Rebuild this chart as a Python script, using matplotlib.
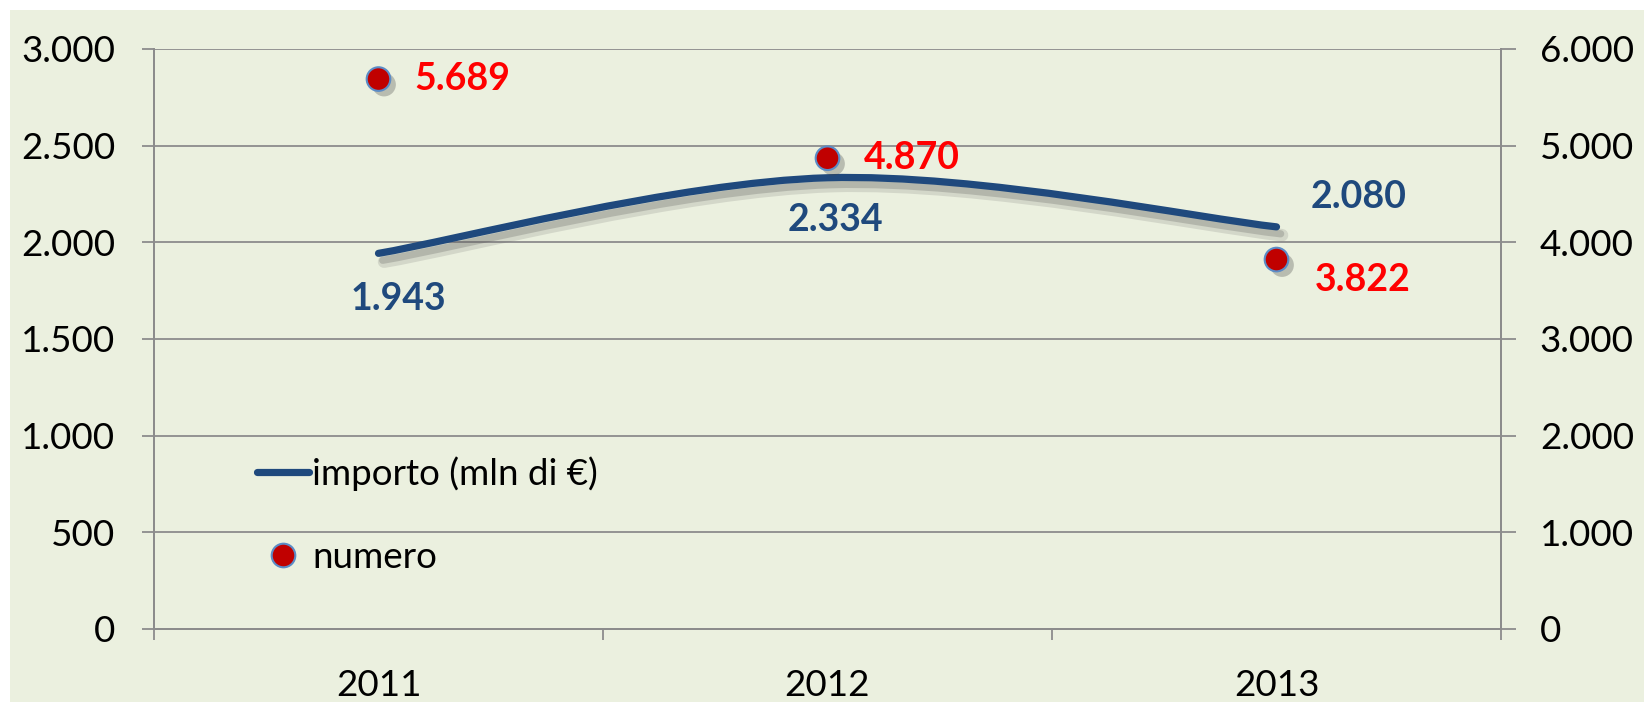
import matplotlib.pyplot as plt
import matplotlib.patheffects as pe
from matplotlib.path import Path
from matplotlib.patches import PathPatch, Rectangle
from matplotlib.lines import Line2D
from matplotlib.ticker import FuncFormatter

# dati
anni = ['2011', '2012', '2013']
importo = [1943, 2334, 2080]   # mln di euro, asse sinistro
numero = [5689, 4870, 3822]    # asse destro

blu = '#1F497D'
rosso = '#C00000'
sfondo = '#EBF0DF'
griglia = '#8C8C8C'

plt.rcParams['font.family'] = ['Lato', 'DejaVu Sans']
plt.rcParams['font.size'] = 26.5


def fmt(v, pos=None):
    return f'{int(v):,}'.replace(',', '.')


fig = plt.figure(figsize=(16.44, 7.02), dpi=100)
fig.patch.set_facecolor('white')
fig.patches.append(Rectangle((10 / 1644, 0), 1, 692 / 702, transform=fig.transFigure,
                             facecolor=sfondo, edgecolor='none', zorder=-10))

ax = fig.add_axes([154 / 1644, 73 / 702, (1501 - 154) / 1644, (653 - 73) / 702])
ax.set_facecolor('none')
ax2 = ax.twinx()

x = [i + 0.5 for i in range(len(anni))]

# linea smussata (bezier tipo Excel)
pts = list(zip(x, importo))
verts = [pts[0]]
codes = [Path.MOVETO]
for i in range(len(pts) - 1):
    p0 = pts[i - 1] if i > 0 else pts[i]
    p1 = pts[i]
    p2 = pts[i + 1]
    p3 = pts[i + 2] if i + 2 < len(pts) else pts[i + 1]
    c1 = (p1[0] + (p2[0] - p0[0]) / 6, p1[1] + (p2[1] - p0[1]) / 6)
    c2 = (p2[0] - (p3[0] - p1[0]) / 6, p2[1] - (p3[1] - p1[1]) / 6)
    verts += [c1, c2, p2]
    codes += [Path.CURVE4] * 3
ombra = [pe.SimpleLineShadow(offset=(4, -6), shadow_color='#666666', alpha=0.18, linewidth=9),
         pe.SimpleLineShadow(offset=(3, -5), shadow_color='#555555', alpha=0.25),
         pe.Normal()]
curva = PathPatch(Path(verts, codes), facecolor='none', edgecolor=blu, lw=5.2,
                  capstyle='round', zorder=3, path_effects=ombra)
ax.add_patch(curva)

ax.set_xlim(0, 3)
ax.set_ylim(0, 3000)
ax.set_yticks(range(0, 3001, 500))
ax.yaxis.set_major_formatter(FuncFormatter(fmt))
ax.grid(axis='y', color=griglia, lw=1.3)
ax.set_axisbelow(True)

ax.set_xticks([0, 1, 2, 3])
ax.set_xticklabels([])
ax.set_xticks(x, minor=True)
ax.set_xticklabels(anni, minor=True)
ax.tick_params(axis='x', which='major', length=8, width=1.3, color=griglia)
ax.tick_params(axis='x', which='minor', length=0, pad=29)
ax.tick_params(axis='y', length=9, width=1.3, color=griglia, pad=19)

for s in ['top']:
    ax.spines[s].set_visible(False)
    ax2.spines[s].set_visible(False)
for a in (ax, ax2):
    for s in ['left', 'right', 'bottom']:
        a.spines[s].set_color(griglia)
        a.spines[s].set_linewidth(1.3)

ax2.plot(x, numero, 'o', ms=17, mfc=rosso, mec='#5B8BC6', mew=1.5, zorder=4,
         path_effects=[pe.SimplePatchShadow(offset=(4, -4), shadow_rgbFace='#444444', alpha=0.3),
                       pe.Normal()])
ax2.set_ylim(0, 6000)
ax2.set_yticks(range(0, 6001, 1000))
ax2.yaxis.set_major_formatter(FuncFormatter(fmt))
ax2.tick_params(axis='y', length=11, width=1.3, color=griglia, pad=17)

# etichette dati
off_num = [(36, 0), (36, 0), (38, -20)]
for xi, v, (dx, dy) in zip(x, numero, off_num):
    ax2.annotate(fmt(v), (xi, v), xytext=(dx, dy), textcoords='offset pixels',
                 ha='left', va='center', color='#FF0000', fontweight='bold', fontsize=27)
off_imp = [(20, -46), (8, -42), (82, 30)]
for xi, v, (dx, dy) in zip(x, importo, off_imp):
    ax.annotate(fmt(v), (xi, v), xytext=(dx, dy), textcoords='offset pixels',
                ha='center', va='center', color=blu, fontweight='bold', fontsize=27)

# legenda
h1 = Line2D([], [], color=blu, lw=5.2, solid_capstyle='round')
h2 = Line2D([], [], ls='none', marker='o', ms=17, mfc=rosso, mec='#5B8BC6', mew=1.5)
ax2.legend([h1, h2], ['importo (mln di €)', 'numero'], loc='upper left',
           bbox_to_anchor=(0.052, 0.355), frameon=False, handlelength=1.4,
           handletextpad=0.1, labelspacing=1.35, fontsize=26.5)

fig.savefig('out.png', dpi=100, facecolor=fig.get_facecolor())
